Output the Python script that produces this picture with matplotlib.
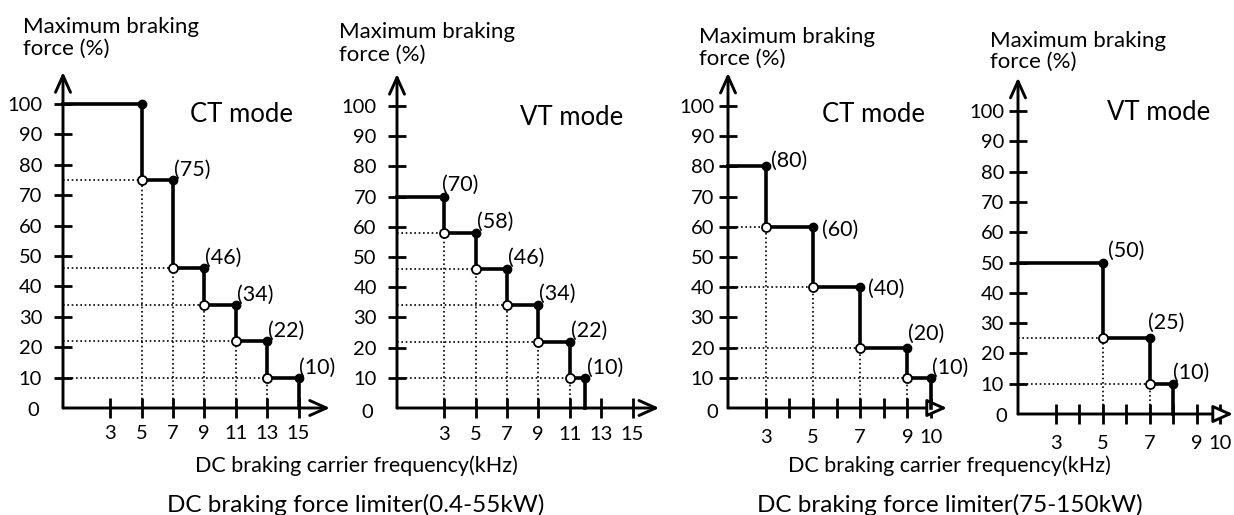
import numpy as np
import matplotlib
matplotlib.use("Agg")
import matplotlib.pyplot as plt

plt.rcParams["font.family"] = ["Lato", "DejaVu Sans"]

# step limits for each drive range / mode: carrier frequency (kHz) where the
# level ends, and the maximum braking force (%) held up to that frequency
ct_small_freq = [5, 7, 9, 11, 13, 15]
ct_small_level = [100, 75, 46, 34, 22, 10]
vt_small_freq = [3, 5, 7, 9, 11, 12]
vt_small_level = [70, 58, 46, 34, 22, 10]
ct_large_freq = [3, 5, 7, 9, 10]
ct_large_level = [80, 60, 40, 20, 10]
vt_large_freq = [5, 7, 8]
vt_large_level = [50, 25, 10]

y_ticks = [10, 20, 30, 40, 50, 60, 70, 80, 90, 100]
x_ticks_small = [3, 5, 7, 9, 11, 13, 15]
x_ticks_large = [3, 5, 7, 9, 10]
x_minor_large = [4, 6, 8]

W, H = 1234, 515
fig = plt.figure(figsize=(W / 100, H / 100), dpi=100)

LW_STEP = 2.6
LW_AXIS = 2.1
FS_TICK = 14.5
FS_VAL = 15.5
FS_TITLE = 16
FS_MODE = 18.5


def fig_xy(x, y):
    return x / W, 1 - y / H


def make_panel(ox, oy, x0, xend, sx, yend, sy):
    ax = fig.add_axes([ox / W, (H - oy) / H, (xend - x0) * sx / W, yend * sy / H])
    ax.set_xlim(x0, xend)
    ax.set_ylim(0, yend)
    ax.set_facecolor("none")
    for s in ax.spines.values():
        s.set_visible(False)
    return ax


def draw_panel(ax, freq, level, xticks, xminor, ylab_pad, xlab_pad,
               zero_off, label_offsets, first_label=True, tri_head=False):
    x0, xend = ax.get_xlim()
    yend = ax.get_ylim()[1]

    # axes with arrow heads
    head = "-|>" if tri_head else "->"
    ax.annotate("", xy=(xend, 0), xytext=(x0, 0), annotation_clip=False,
                arrowprops=dict(arrowstyle=head + ",head_length=0.6,head_width=0.27",
                                lw=LW_AXIS, color="black", fc="white",
                                mutation_scale=20, shrinkA=0, shrinkB=0))
    ax.annotate("", xy=(x0, yend), xytext=(x0, 0), annotation_clip=False,
                arrowprops=dict(arrowstyle="->,head_length=0.6,head_width=0.27",
                                lw=LW_AXIS, color="black",
                                mutation_scale=20, shrinkA=0, shrinkB=0))

    ax.set_yticks(y_ticks)
    ax.set_yticklabels([str(v) for v in y_ticks])
    ax.set_xticks(xticks)
    ax.set_xticklabels([str(v) for v in xticks])
    if xminor:
        ax.set_xticks(xminor, minor=True)
    ax.tick_params(axis="y", direction="inout", length=13, width=2,
                   pad=ylab_pad, labelsize=FS_TICK)
    ax.tick_params(axis="x", which="both", direction="inout", length=14,
                   width=2, pad=xlab_pad, labelsize=FS_TICK)
    ax.text(x0, 0, "0", fontsize=FS_TICK, ha="center", va="center",
            transform=ax.transData + matplotlib.transforms.ScaledTranslation(
                zero_off[0] / 100, -zero_off[1] / 100, fig.dpi_scale_trans))

    freq = np.asarray(freq, dtype=float)
    level = np.asarray(level, dtype=float)

    # guide lines to the lower corners of each step
    for fx, ly in zip(freq[:-1], level[1:]):
        ax.plot([x0, fx], [ly, ly], color="black", lw=1.2,
                linestyle=(0, (1, 1.6)), zorder=2)
        ax.plot([fx, fx], [0, ly], color="black", lw=1.2,
                linestyle=(0, (1, 1.6)), zorder=2)

    xs = np.r_[x0, np.repeat(freq, 2)]
    ys = np.r_[np.repeat(level, 2), 0]
    ax.plot(xs, ys, color="black", lw=LW_STEP, solid_joinstyle="miter",
            zorder=3, clip_on=False)

    ax.plot(freq, level, "o", color="black", ms=6, zorder=4, clip_on=False)
    ax.plot(freq[:-1], level[1:], "o", mfc="white", mec="black", mew=1.3,
            ms=6.5, zorder=4, clip_on=False)

    start = 0 if first_label else 1
    for (fx, ly), (dx, dy) in zip(list(zip(freq, level))[start:], label_offsets):
        ax.annotate(f"({int(ly)})", xy=(fx, ly), xytext=(dx * 0.72, dy * 0.72),
                    textcoords="offset points", ha="left", va="center",
                    fontsize=FS_VAL, annotation_clip=False)


ax1 = make_panel(63, 408, 0, 17, 15.7, 110.5, 3.04)
draw_panel(ax1, ct_small_freq, ct_small_level, x_ticks_small, None,
           ylab_pad=8.5, xlab_pad=5, zero_off=(-30, 2),
           label_offsets=[(1, 10)] * 5, first_label=False)

ax2 = make_panel(397, 408, 0, 16.7, 15.7, 110.6, 3.02)
draw_panel(ax2, vt_small_freq, vt_small_level, x_ticks_small, None,
           ylab_pad=8, xlab_pad=6, zero_off=(-30, 4),
           label_offsets=[(-2, 12), (1, 11), (1, 11), (1, 11), (1, 11), (2, 10)])

ax3 = make_panel(728, 408, 1.4, 10.68, 23.6, 111, 3.02)
draw_panel(ax3, ct_large_freq, ct_large_level, x_ticks_large, x_minor_large,
           ylab_pad=3.5, xlab_pad=8, zero_off=(-16, 4),
           label_offsets=[(5, 6), (9, -3), (8, -2), (1, 14), (1, 10)],
           tri_head=True)

ax4 = make_panel(1018, 414, 1.4, 10.55, 23.5, 111, 3.03)
draw_panel(ax4, vt_large_freq, vt_large_level, x_ticks_large, x_minor_large,
           ylab_pad=3.5, xlab_pad=8, zero_off=(-17, 3),
           label_offsets=[(5, 12), (-2, 15), (0, 11)], tri_head=True)

# axis titles above each y axis
for x, y1, y2 in [(23, 33, 55), (339, 38, 61), (699, 43, 65), (990, 47, 68)]:
    fig.text(*fig_xy(x, y1), "Maximum braking", fontsize=FS_TITLE, ha="left", va="baseline")
    fig.text(*fig_xy(x, y2), "force (%)", fontsize=FS_TITLE, ha="left", va="baseline")

for x, y, s in [(241, 115, "CT mode"), (572, 118, "VT mode"),
                (873, 115, "CT mode"), (1159, 113, "VT mode")]:
    fig.text(*fig_xy(x, y), s, fontsize=FS_MODE, ha="center", va="center")

for x in (356, 949):
    fig.text(*fig_xy(x, 466), "DC braking carrier frequency(kHz)",
             fontsize=15.5, ha="center", va="center")
fig.text(*fig_xy(356, 505), "DC braking force limiter(0.4-55kW)",
         fontsize=17.5, ha="center", va="center")
fig.text(*fig_xy(950, 505), "DC braking force limiter(75-150kW)",
         fontsize=17.5, ha="center", va="center")

fig.savefig("out.png", dpi=100, facecolor="white")
